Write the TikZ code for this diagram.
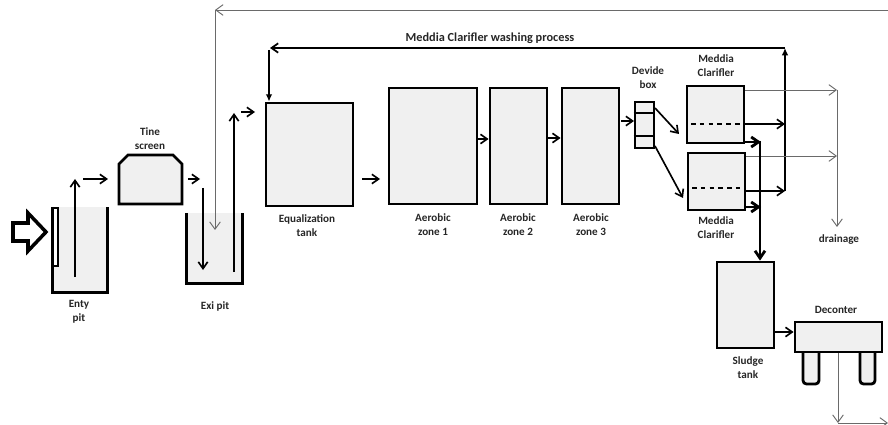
\documentclass[tikz,border=0pt]{standalone}
\usepackage{fontspec}
\setmainfont{Carlito}
\usetikzlibrary{arrows.meta,fit}
\definecolor{tankfill}{HTML}{F0F0F0}
\definecolor{pipegray}{HTML}{6A6A6A}

\begin{document}
\begin{tikzpicture}[x=0.03cm,y=-0.03cm,
  tank/.style={draw,line width=2.4pt,fill=tankfill,inner sep=0pt},
  pool/.style={fill=tankfill,inner sep=0pt},
  lbl/.style={font=\bfseries\fontsize{9.5}{12}\selectfont,align=center,text=black!85},
  arr/.style={-{Straight Barb[length=2mm,width=2.8mm]},line width=1.4pt},
  washarr/.style={-{Latex[length=2.2mm,width=2mm]},line width=1.5pt},
  sludgearr/.style={-{Straight Barb[length=2.2mm,width=3mm]},line width=2.4pt},
  pipe/.style={-{Straight Barb[length=2.2mm,width=3.2mm]},line width=0.8pt,draw=pipegray}]
  \useasboundingbox (0,0) rectangle (888,425);

  % entry pit
  \node[pool,fit={(53,207) (107,292)}] (entry) {};
  \draw[line width=2.4pt] (entry.north west) -- (entry.south west) -- (entry.south east) -- (entry.north east);
  \node[draw,line width=1pt,fill=white,inner sep=0pt,fit={(53,208) (58,266)}] (bar) {};
  \draw[arr] (75,277) -- (75,179);
  \draw[line width=3pt,fill=white] (13,223) -- (28,223) -- (28,213) -- (46,232) -- (28,251) -- (28,241) -- (13,241) -- cycle;
  \node[lbl] (entrylbl) at (79,312) {Enty\\pit};

  % tine screen
  \draw[line width=2.4pt,fill=tankfill] (119,204) -- (119,164) -- (128,155) -- (173,155) -- (182,164) -- (182,204) -- cycle;
  \node[lbl] (screenlbl) at (150,139) {Tine\\screen};
  \draw[arr] (83,179) -- (108,179);
  \draw[arr] (188,179) -- (200,179);

  % exit pit
  \node[pool,fit={(187,213) (242,283)}] (exi) {};
  \draw[line width=2.4pt] (exi.north west) -- (exi.south west) -- (exi.south east) -- (exi.north east);
  \draw[arr] (203,188) -- (203,270);
  \draw[arr] (234,272) -- (234,113);
  \draw[arr] (241,112) -- (255,112);
  \node[lbl] (exilbl) at (215,306) {Exi pit};

  % return line from deconter
  \draw[pipe] (888,10) -- (215,10);
  \draw[pipe] (215,10) -- (215,230);

  % equalization and aerobic zones
  \node[tank,fit={(266,103) (353,206)}] (eq) {};
  \node[lbl] (eqlbl) at (307,226) {Equalization\\tank};
  \node[tank,fit={(389,88) (477,204)}] (aerA) {};
  \node[lbl] (aerAlbl) at (433,225) {Aerobic\\zone 1};
  \node[tank,fit={(490,88) (547,204)}] (aerB) {};
  \node[lbl] (aerBlbl) at (518,225) {Aerobic\\zone 2};
  \node[tank,fit={(562,88) (619,204)}] (aerC) {};
  \node[lbl] (aerClbl) at (591,225) {Aerobic\\zone 3};
  \draw[arr] (362,179) -- (380,179);
  \draw[arr] (aerA.east |- 0,139) -- (aerB.west |- 0,139);
  \draw[arr] (aerB.east |- 0,138) -- (aerC.west |- 0,138);
  \draw[arr] (621,121) -- (634,121);

  % divide box
  \node[tank,fit={(635,102) (654,148)}] (divide) {};
  \draw[line width=1.8pt] (divide.west |- 0,113) -- (divide.east |- 0,113);
  \draw[line width=2.4pt] (divide.west |- 0,136) -- (divide.east |- 0,136);
  \node[lbl] (dividelbl) at (648,78) {Devide\\box};

  % media clarifiers
  \node[tank,fit={(687,86) (744,143)}] (clarA) {};
  \draw[line width=1.6pt,dash pattern=on 4pt off 3.5pt] (691,124) -- (740,124);
  \node[lbl] (clarAlbl) at (716,66) {Meddia\\Clarifler};
  \node[tank,fit={(688,153) (745,210)}] (clarB) {};
  \draw[line width=1.6pt,dash pattern=on 4pt off 3.5pt] (692,188) -- (740,188);
  \node[lbl] (clarBlbl) at (716,228) {Meddia\\Clarifler};
  \draw[arr] (655,108) -- (679,134);
  \draw[arr] (655,146) -- (683,198);

  % washing process
  \draw[arr] (clarA.east |- 0,124) -- (785,124);
  \draw[arr] (clarB.east |- 0,191) -- (785,191);
  \draw[washarr] (785,191) -- (785,48);
  \draw[arr,line width=1.5pt] (785,48) -- (270,48);
  \draw[washarr] (269,50) -- (eq.north -| 269,0);
  \node[font=\bfseries\fontsize{10.5}{12}\selectfont,text=black!85] (washlbl) at (490,38) {Meddia Clarifler washing process};

  % drainage
  \draw[pipe] (clarA.east |- 0,90) -- (837,90);
  \draw[pipe] (clarB.east |- 0,156) -- (837,156);
  \draw[pipe] (837,90) -- (837,227);
  \node[lbl] (drainlbl) at (839,240) {drainage};

  % sludge line
  \node[tank,fit={(717,262) (774,348)}] (sludge) {};
  \node[lbl] (sludgelbl) at (748,368) {Sludge\\tank};
  \draw[sludgearr] (clarA.east |- 0,142) -- (761,142);
  \draw[sludgearr] (clarB.east |- 0,207) -- (761,207);
  \draw[sludgearr] (760,141) -- (sludge.north -| 760,0);

  % deconter
  \node[tank,rounded corners=3pt,fit={(803,340) (819,384)}] (legA) {};
  \node[tank,rounded corners=3pt,fit={(860,340) (875,384)}] (legB) {};
  \node[tank,fit={(795,322) (882,352)}] (deconter) {};
  \node[lbl] (deconterlbl) at (836,310) {Deconter};
  \draw[arr] (sludge.east |- 0,332) -- (deconter.west |- 0,332);
  \draw[pipe] (deconter.south -| 838,0) -- (838,423);
  \draw[pipe] (838,423) -- (888,423);
\end{tikzpicture}
\end{document}
